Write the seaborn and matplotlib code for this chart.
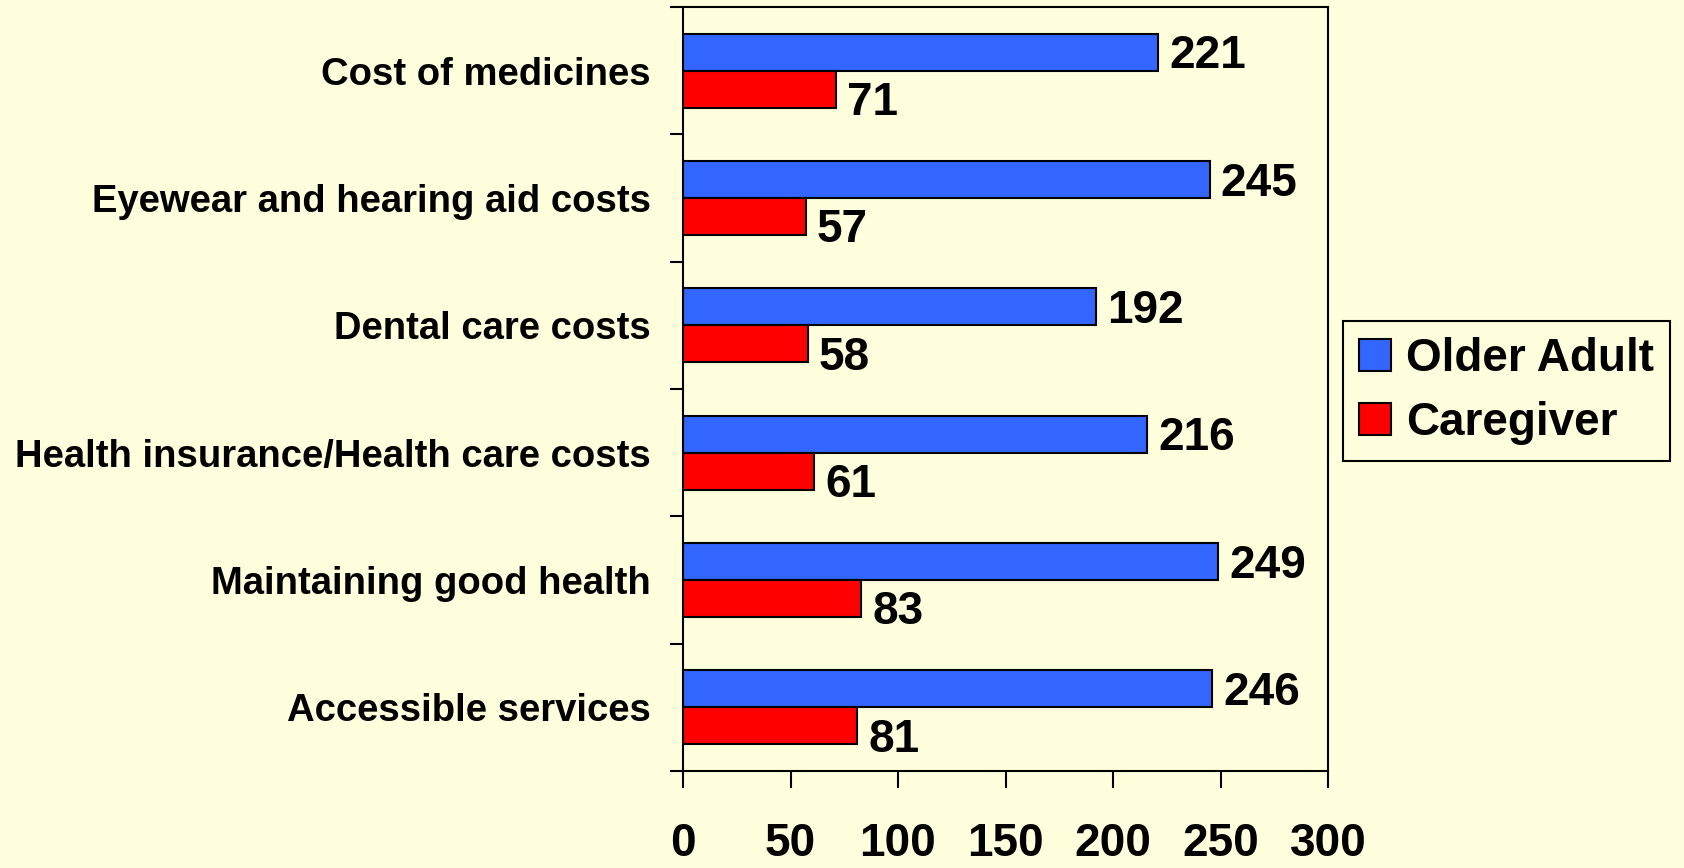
import pandas as pd
import numpy as np
import matplotlib
matplotlib.use("Agg")
import matplotlib.pyplot as plt
import seaborn as sns

# données
issues = ["Cost of medicines", "Eyewear and hearing aid costs", "Dental care costs",
          "Health insurance/Health care costs", "Maintaining good health", "Accessible services"]
older_adult = [221, 245, 192, 216, 249, 246]
caregiver = [71, 57, 58, 61, 83, 81]
groups = ["Older Adult", "Caregiver"]
x_ticks = [0, 50, 100, 150, 200, 250, 300]

bg = "#FFFFDD"
colors = ["#3366FF", "#FF0000"]

df = pd.DataFrame({
    "issue": issues * 2,
    "count": older_adult + caregiver,
    "group": [groups[0]] * len(issues) + [groups[1]] * len(issues),
})

sns.set_style("ticks")
plt.rcParams["font.family"] = ["Liberation Sans", "DejaVu Sans"]
plt.rcParams["font.weight"] = "bold"
plt.rcParams["text.color"] = "black"
plt.rcParams["xtick.color"] = "black"
plt.rcParams["ytick.color"] = "black"

fig = plt.figure(figsize=(16.84, 8.68), dpi=100, facecolor=bg)
ax = fig.add_axes([683 / 1684, 1 - 771 / 868, (1328 - 683) / 1684, (771 - 7) / 868])
ax.set_facecolor(bg)

sns.barplot(data=df, y="issue", x="count", hue="group", order=issues, hue_order=groups,
            palette=colors, saturation=1, width=0.58, edgecolor="black", linewidth=1.5,
            errorbar=None, orient="h", ax=ax)

# étiquettes de valeurs (les rouges un peu plus bas, comme sur l'original)
for cont, dy in zip(ax.containers, [-3, -10]):
    texts = ax.bar_label(cont, padding=8, fontsize=33, fontweight="bold", color="black")
    for t in texts:
        t.xyann = (8, dy)

ax.set_xlim(0, 300)
ax.set_ylim(5.5, -0.5)
ax.set_xticks(x_ticks)
ax.set_xticklabels([str(t) for t in x_ticks], fontsize=33, fontweight="bold")
ax.tick_params(axis="x", length=12, width=1.5, pad=24.5, colors="black")
ax.set_yticks(range(len(issues)))
ax.set_yticklabels(issues, fontsize=27.5, fontweight="bold")
ax.tick_params(axis="y", which="major", length=0, pad=23, colors="black")
ax.set_yticks(np.arange(-0.5, len(issues), 1), minor=True)
ax.tick_params(axis="y", which="minor", length=9.5, width=1.5, color="black")
ax.set_xlabel("")
ax.set_ylabel("")
for sp in ax.spines.values():
    sp.set_visible(True)
    sp.set_linewidth(1.5)
    sp.set_color("black")

ax.legend_.remove()
handles, labels = ax.get_legend_handles_labels()
leg = fig.legend(handles, labels, loc="center left", bbox_to_anchor=(1343 / 1684, 1 - 391 / 868),
                 borderaxespad=0, prop={"size": 33, "weight": "bold"},
                 handlelength=0.7, handleheight=0.7, handletextpad=0.33,
                 labelspacing=0.45, borderpad=0.35, fancybox=False,
                 edgecolor="black", facecolor=bg, framealpha=1)
leg.get_frame().set_linewidth(1.5)

fig.savefig("out.png", dpi=100, facecolor=bg)
